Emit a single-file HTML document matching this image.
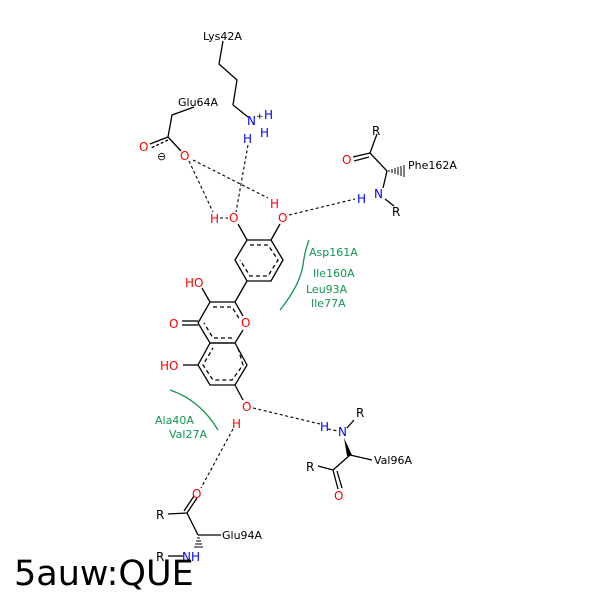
<!DOCTYPE html>
<html><head><style>body{margin:0;background:#fff}svg{display:block}</style></head><body>
<svg width="600" height="600" viewBox="0 0 600 600" xmlns="http://www.w3.org/2000/svg" font-family="'DejaVu Sans','Liberation Sans',sans-serif" font-size="11">
<rect width="600" height="600" fill="#fff"/>
<g stroke="#000" stroke-width="1.3" fill="none">
<polygon points="247,240 271,240 283,260 271,281 247,281 235,260"/>
<polyline points="250,245 268,245 278,260 268,276 250,276 240,260" stroke-dasharray="4,3"/>
<line x1="247" y1="240" x2="238" y2="224"/><line x1="271" y1="240" x2="280" y2="224"/>
<line x1="247" y1="281" x2="235" y2="302"/>
<polyline points="198,323 210,302 235,302 243,316"/><polyline points="243,330 235,343 210,343 198,323"/>
<polyline points="213,307 232,307 240,320" stroke-dasharray="4,3"/>
<polyline points="232,338 213,338 204,323" stroke-dasharray="4,3"/>
<polygon points="210,343 235,343 247,365 235,385 210,385 198,365"/>
<polyline points="238,348 243,365 232,380 213,380 203,365 213,348" stroke-dasharray="4,3"/>
<line x1="210" y1="302" x2="202" y2="288"/>
<line x1="198" y1="321" x2="182" y2="321"/><line x1="198" y1="325" x2="182" y2="325"/>
<line x1="198" y1="365" x2="183" y2="365"/>
<line x1="235" y1="385" x2="243" y2="400"/>
<polyline points="194,107 172,115 168,137"/>
<line x1="168" y1="137" x2="150" y2="144"/><line x1="168" y1="140" x2="151" y2="148" stroke-dasharray="3,2"/>
<line x1="168" y1="137" x2="181" y2="151"/>
<polyline points="223,41 219,64 237,80 233,105 248,117"/>
<line x1="383" y1="188" x2="387" y2="171"/><line x1="387" y1="171" x2="370" y2="153"/>
<line x1="370" y1="153" x2="377" y2="134"/>
<line x1="370" y1="153" x2="353" y2="157"/><line x1="369" y1="157" x2="354" y2="161"/>
<line x1="385" y1="199" x2="394" y2="206"/>
<line x1="350" y1="455" x2="372" y2="460"/><line x1="350" y1="455" x2="333" y2="470"/>
<line x1="333" y1="470" x2="318" y2="466"/>
<line x1="333" y1="470" x2="338" y2="489"/><line x1="337" y1="471" x2="342" y2="488"/>
<line x1="347" y1="428" x2="354" y2="420"/>
<line x1="197" y1="498" x2="187" y2="513"/><line x1="194" y1="496" x2="184" y2="511"/>
<line x1="187" y1="513" x2="168" y2="514"/><line x1="187" y1="513" x2="198" y2="535"/>
<line x1="198" y1="535" x2="221" y2="535"/><line x1="168" y1="556" x2="183" y2="556"/>
</g>
<polygon points="344,438 352,455 347,456" fill="#000"/>
<g stroke="#000" stroke-width="1">
<line x1="389" y1="170" x2="389" y2="172"/><line x1="392" y1="169" x2="392" y2="173"/><line x1="395" y1="168" x2="395" y2="174"/><line x1="398" y1="167" x2="398" y2="175"/><line x1="401" y1="166" x2="401" y2="176"/><line x1="404" y1="165" x2="404" y2="177"/>
<line x1="197" y1="538" x2="200" y2="538"/><line x1="196" y1="541" x2="201" y2="541"/><line x1="195" y1="544" x2="202" y2="544"/><line x1="194" y1="547" x2="203" y2="547"/>
</g>
<g stroke="#000" stroke-width="1.1" stroke-dasharray="3,2.5" fill="none">
<line x1="248" y1="145" x2="236" y2="212"/>
<line x1="189" y1="161" x2="213" y2="212"/>
<line x1="193" y1="160" x2="268" y2="198"/>
<line x1="289" y1="215" x2="355" y2="199"/>
<line x1="253" y1="408" x2="320" y2="424"/>
<line x1="233" y1="429" x2="201" y2="488"/>
<line x1="220" y1="218" x2="228" y2="218"/>
<line x1="328" y1="429" x2="338" y2="431"/>
</g>
<g stroke="#129650" stroke-width="1.3" fill="none">
<path d="M280,310 Q300,285 303,265 Q305,250 309,240"/>
<path d="M170,390 Q200,400 218,430"/>
</g>
<g fill="#129650">
<text x="309" y="256">Asp161A</text><text x="313" y="277">Ile160A</text><text x="306" y="293">Leu93A</text><text x="311" y="307">Ile77A</text>
<text x="155" y="424">Ala40A</text><text x="169" y="438">Val27A</text>
</g>
<g fill="#f00" font-size="12">
<text x="229" y="222">O</text><text x="278" y="222">O</text><text x="210" y="223">H</text><text x="270" y="208">H</text>
<text x="185" y="287">HO</text><text x="241" y="327">O</text><text x="169" y="328">O</text><text x="160" y="370">HO</text>
<text x="242" y="411">O</text><text x="232" y="428">H</text>
<text x="139" y="151">O</text><text x="180" y="160">O</text>
<text x="342" y="164">O</text><text x="334" y="500">O</text><text x="192" y="498">O</text>
</g>
<g fill="#00f" font-size="12">
<text x="247" y="125">N</text><text x="264" y="119">H</text><text x="260" y="137">H</text><text x="243" y="143">H</text>
<text x="374" y="198">N</text><text x="357" y="203">H</text>
<text x="338" y="436">N</text><text x="320" y="431">H</text>
<text x="182" y="561">NH</text>
</g>
<g fill="#000">
<text x="256" y="119" font-size="9">+</text>
<text x="157" y="160" font-size="11">⊖</text>
<text x="203" y="40">Lys42A</text><text x="178" y="106">Glu64A</text>
<text x="408" y="169">Phe162A</text><text x="372" y="135" font-size="12">R</text><text x="392" y="216" font-size="12">R</text>
<text x="374" y="464">Val96A</text><text x="356" y="417" font-size="12">R</text><text x="306" y="471" font-size="12">R</text>
<text x="222" y="539">Glu94A</text><text x="156" y="519" font-size="12">R</text><text x="156" y="561" font-size="12">R</text>
<text x="14" y="585" font-size="35" font-family="'DejaVu Sans',sans-serif">5auw:QUE</text>
</g>
</svg>
</body></html>
